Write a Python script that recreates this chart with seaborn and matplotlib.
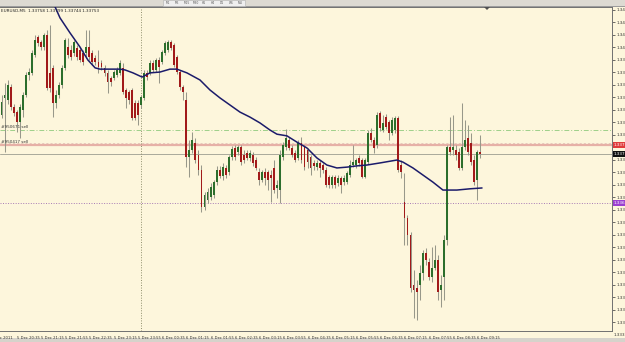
import numpy as np
import pandas as pd
import matplotlib
matplotlib.use("Agg")
import matplotlib.pyplot as plt
import matplotlib.transforms as mtransforms
from matplotlib.patches import Rectangle, Polygon
import seaborn as sns

# ---------------- data ----------------
symbol = "EURUSD,M5"
start_time = "2011-12-05 20:10"

opens = [1.33847, 1.33888, 1.33883, 1.33914, 1.33866, 1.33854, 1.33830, 1.33859, 1.33895, 1.33943,
         1.33948, 1.33991, 1.34034, 1.34022, 1.34010, 1.34039, 1.33948, 1.33960, 1.33876, 1.33895,
         1.33919, 1.33960, 1.34010, 1.34003, 1.33996, 1.34008, 1.34003, 1.33996, 1.33996, 1.34010,
         1.33996, 1.33984, 1.33974, 1.33972, 1.33960, 1.33948, 1.33936, 1.33936, 1.33943, 1.33948,
         1.33960, 1.33907, 1.33902, 1.33907, 1.33876, 1.33876, 1.33871, 1.33888, 1.33948, 1.33948,
         1.33972, 1.33955, 1.33979, 1.33974, 1.33996, 1.34003, 1.34022, 1.34015, 1.33986, 1.33950,
         1.33914, 1.33883, 1.33746, 1.33763, 1.33780, 1.33751, 1.33715, 1.33626, 1.33643, 1.33650,
         1.33655, 1.33686, 1.33715, 1.33701, 1.33720, 1.33710, 1.33746, 1.33768, 1.33758, 1.33770,
         1.33751, 1.33756, 1.33744, 1.33751, 1.33739, 1.33710, 1.33691, 1.33710, 1.33710, 1.33703,
         1.33720, 1.33672, 1.33667, 1.33746, 1.33770, 1.33787, 1.33768, 1.33756, 1.33744, 1.33780,
         1.33770, 1.33763, 1.33746, 1.33732, 1.33722, 1.33732, 1.33727, 1.33715, 1.33698, 1.33679,
         1.33698, 1.33684, 1.33696, 1.33686, 1.33686, 1.33703, 1.33727, 1.33727, 1.33744, 1.33739,
         1.33698, 1.33734, 1.33804, 1.33787, 1.33775, 1.33852, 1.33811, 1.33842, 1.33830, 1.33804,
         1.33811, 1.33840, 1.33727, 1.33638, 1.33600, 1.33559, 1.33439, 1.33432, 1.33439, 1.33468,
         1.33516, 1.33494, 1.33458, 1.33480, 1.33499, 1.33427, 1.33458, 1.33547, 1.33770, 1.33763,
         1.33763, 1.33758, 1.33720, 1.33770, 1.33792, 1.33780, 1.33739, 1.33691, 1.33758]

highs = [1.33895, 1.33924, 1.33931, 1.33921, 1.33873, 1.33859, 1.33873, 1.33902, 1.33950, 1.33960,
         1.34003, 1.34039, 1.34039, 1.34027, 1.34044, 1.34051, 1.34063, 1.33967, 1.33907, 1.33926,
         1.33967, 1.34032, 1.34032, 1.34015, 1.34027, 1.34015, 1.34010, 1.34003, 1.34051, 1.34051,
         1.34003, 1.33991, 1.34003, 1.33979, 1.33967, 1.33955, 1.33941, 1.33955, 1.33962, 1.33979,
         1.33972, 1.33912, 1.33907, 1.33912, 1.33883, 1.33883, 1.33895, 1.33955, 1.33955, 1.33979,
         1.33979, 1.33984, 1.33986, 1.34003, 1.34025, 1.34027, 1.34027, 1.34020, 1.33991, 1.33955,
         1.33919, 1.33902, 1.33787, 1.33806, 1.33792, 1.33763, 1.33727, 1.33662, 1.33672, 1.33684,
         1.33691, 1.33725, 1.33725, 1.33732, 1.33727, 1.33751, 1.33773, 1.33775, 1.33775, 1.33775,
         1.33763, 1.33763, 1.33763, 1.33758, 1.33746, 1.33720, 1.33715, 1.33720, 1.33715, 1.33715,
         1.33739, 1.33691, 1.33763, 1.33782, 1.33813, 1.33794, 1.33775, 1.33763, 1.33787, 1.33794,
         1.33775, 1.33768, 1.33751, 1.33739, 1.33739, 1.33739, 1.33732, 1.33722, 1.33703, 1.33703,
         1.33703, 1.33703, 1.33701, 1.33703, 1.33713, 1.33739, 1.33775, 1.33744, 1.33751, 1.33744,
         1.33744, 1.33811, 1.33816, 1.33794, 1.33854, 1.33857, 1.33847, 1.33849, 1.33835, 1.33842,
         1.33845, 1.33845, 1.33739, 1.33708, 1.33607, 1.33566, 1.33475, 1.33451, 1.33487, 1.33523,
         1.33528, 1.33504, 1.33530, 1.33535, 1.33511, 1.33463, 1.33559, 1.33775, 1.33842, 1.33847,
         1.33775, 1.33768, 1.33876, 1.33835, 1.33823, 1.33804, 1.33751, 1.33763, 1.33799]

lows = [1.33840, 1.33758, 1.33873, 1.33859, 1.33845, 1.33806, 1.33792, 1.33842, 1.33890, 1.33931,
        1.33943, 1.33986, 1.34013, 1.34003, 1.34003, 1.33907, 1.33902, 1.33842, 1.33864, 1.33888,
        1.33912, 1.33955, 1.33984, 1.33979, 1.33989, 1.33979, 1.33974, 1.33967, 1.33984, 1.33979,
        1.33967, 1.33967, 1.33948, 1.33955, 1.33941, 1.33900, 1.33917, 1.33931, 1.33938, 1.33943,
        1.33897, 1.33864, 1.33873, 1.33835, 1.33835, 1.33823, 1.33864, 1.33883, 1.33931, 1.33943,
        1.33950, 1.33950, 1.33924, 1.33969, 1.33991, 1.33998, 1.34003, 1.33962, 1.33945, 1.33907,
        1.33883, 1.33722, 1.33698, 1.33756, 1.33732, 1.33703, 1.33614, 1.33619, 1.33636, 1.33643,
        1.33648, 1.33679, 1.33696, 1.33691, 1.33696, 1.33703, 1.33739, 1.33739, 1.33751, 1.33727,
        1.33732, 1.33739, 1.33737, 1.33725, 1.33715, 1.33679, 1.33686, 1.33679, 1.33667, 1.33638,
        1.33660, 1.33648, 1.33636, 1.33739, 1.33763, 1.33763, 1.33746, 1.33734, 1.33739, 1.33732,
        1.33715, 1.33720, 1.33703, 1.33715, 1.33715, 1.33698, 1.33708, 1.33674, 1.33672, 1.33672,
        1.33672, 1.33677, 1.33660, 1.33679, 1.33681, 1.33698, 1.33722, 1.33720, 1.33725, 1.33696,
        1.33696, 1.33729, 1.33782, 1.33756, 1.33768, 1.33809, 1.33806, 1.33813, 1.33787, 1.33799,
        1.33804, 1.33710, 1.33696, 1.33535, 1.33535, 1.33422, 1.33360, 1.33355, 1.33403, 1.33451,
        1.33487, 1.33451, 1.33446, 1.33475, 1.33403, 1.33386, 1.33403, 1.33535, 1.33751, 1.33751,
        1.33739, 1.33715, 1.33715, 1.33763, 1.33751, 1.33727, 1.33679, 1.33643, 1.33744]

closes = [1.33878, 1.33895, 1.33919, 1.33866, 1.33852, 1.33830, 1.33866, 1.33895, 1.33943, 1.33950,
          1.33996, 1.34027, 1.34020, 1.34010, 1.34039, 1.33912, 1.33912, 1.33876, 1.33895, 1.33919,
          1.33960, 1.34027, 1.33991, 1.33986, 1.34022, 1.33986, 1.33979, 1.33974, 1.34010, 1.33986,
          1.33974, 1.33974, 1.33962, 1.33962, 1.33948, 1.33926, 1.33926, 1.33950, 1.33955, 1.33972,
          1.33902, 1.33888, 1.33883, 1.33840, 1.33840, 1.33847, 1.33890, 1.33948, 1.33938, 1.33972,
          1.33955, 1.33979, 1.33962, 1.33998, 1.34020, 1.34022, 1.34008, 1.33967, 1.33950, 1.33914,
          1.33902, 1.33746, 1.33763, 1.33787, 1.33739, 1.33715, 1.33626, 1.33655, 1.33662, 1.33674,
          1.33686, 1.33715, 1.33701, 1.33722, 1.33703, 1.33746, 1.33765, 1.33746, 1.33770, 1.33734,
          1.33739, 1.33744, 1.33756, 1.33732, 1.33720, 1.33691, 1.33710, 1.33696, 1.33691, 1.33696,
          1.33667, 1.33679, 1.33751, 1.33775, 1.33792, 1.33768, 1.33751, 1.33739, 1.33780, 1.33739,
          1.33722, 1.33734, 1.33720, 1.33725, 1.33732, 1.33720, 1.33715, 1.33679, 1.33679, 1.33698,
          1.33679, 1.33696, 1.33679, 1.33696, 1.33708, 1.33727, 1.33734, 1.33739, 1.33732, 1.33698,
          1.33739, 1.33804, 1.33787, 1.33768, 1.33847, 1.33816, 1.33828, 1.33818, 1.33804, 1.33835,
          1.33840, 1.33715, 1.33710, 1.33600, 1.33559, 1.33432, 1.33427, 1.33422, 1.33468, 1.33516,
          1.33499, 1.33458, 1.33480, 1.33499, 1.33422, 1.33439, 1.33547, 1.33770, 1.33758, 1.33770,
          1.33751, 1.33720, 1.33770, 1.33787, 1.33758, 1.33734, 1.33686, 1.33758, 1.33753]

# moving average read at sample bars
ma_bar = [16.0, 17.7, 19.3, 22.6, 25.9, 28.5, 30.9, 32.5, 39.1, 40.8, 43.4, 46.4, 49.0, 52.3,
          55.6, 57.9, 61.2, 65.5, 68.8, 72.1, 75.4, 78.7, 82.0, 85.3, 88.6, 90.9, 94.2, 97.5,
          100.8, 104.1, 107.4, 110.7, 114.0, 117.3, 120.6, 124.9, 130.5, 132.5, 135.8, 139.1,
          142.4, 145.7, 150.3, 154.6, 158.6]
ma_price = [1.34130, 1.34106, 1.34080, 1.34044, 1.34010, 1.33979, 1.33960, 1.33957, 1.33957,
            1.33955, 1.33948, 1.33938, 1.33948, 1.33950, 1.33957, 1.33957, 1.33948, 1.33931,
            1.33907, 1.33888, 1.33871, 1.33854, 1.33842, 1.33828, 1.33811, 1.33801, 1.33797,
            1.33782, 1.33768, 1.33744, 1.33727, 1.33720, 1.33722, 1.33725, 1.33727, 1.33732,
            1.33739, 1.33734, 1.33720, 1.33703, 1.33686, 1.33667, 1.33667, 1.33670, 1.33672]

price_ticks = [1.34100, 1.34070, 1.34040, 1.34010, 1.33980, 1.33950, 1.33920, 1.33890, 1.33860,
               1.33830, 1.33800, 1.33770, 1.33740, 1.33710, 1.33680, 1.33650, 1.33620, 1.33590,
               1.33560, 1.33530, 1.33500, 1.33470, 1.33440, 1.33410, 1.33380, 1.33350]
bottom_tick = 1.33320

time_labels = ["5 Dec 2011", "5 Dec 20:35", "5 Dec 21:15", "5 Dec 21:55", "5 Dec 22:35",
               "5 Dec 23:15", "5 Dec 23:55", "6 Dec 00:35", "6 Dec 01:15", "6 Dec 01:55",
               "6 Dec 02:35", "6 Dec 03:15", "6 Dec 03:55", "6 Dec 04:35", "6 Dec 05:15",
               "6 Dec 05:55", "6 Dec 06:35", "6 Dec 07:15", "6 Dec 07:55", "6 Dec 08:35",
               "6 Dec 09:15"]

entry_level, entry_label = 1.33811, "#950671 sell"
stop_level, stop_label = 1.33775, "#950417 sell"
bid_level = 1.33753
alert_level = 1.33636
separator_time = "2011-12-06 00:00"
timeframes = ["M1", "M5", "M15", "M30", "H1", "H4", "D1", "W1", "MN"]

# ---------------- drawing ----------------
BG = "#fdf6dc"
GREEN = "#2c6e2c"
RED = "#a11a1a"
WICK = "#98988a"
NAVY = "#1b1b6a"

sns.set_theme(style="white")
plt.rcParams["font.family"] = ["DejaVu Sans"]

W, H = 625, 342
fig = plt.figure(figsize=(W / 100, H / 100), dpi=100, facecolor=BG)


def fy(py):
    return 1 - py / H


ax = fig.add_axes([0, fy(331), 612 / W, (331 - 7) / H])
ax.set_facecolor(BG)

n = len(opens)
o = np.array(opens)
h = np.array(highs)
l = np.array(lows)
c = np.array(closes)
x = np.arange(n)
times = pd.date_range(start_time, periods=n, freq="5min")

bull = c >= o
lo_body = np.minimum(o, c)
body_h = np.maximum(np.abs(c - o), 0.000012)

ax.vlines(x, l, h, color=WICK, lw=0.75, zorder=2)
ax.bar(x[bull], body_h[bull], bottom=lo_body[bull], width=0.62, color=GREEN,
       linewidth=0, zorder=3)
ax.bar(x[~bull], body_h[~bull], bottom=lo_body[~bull], width=0.62, color=RED,
       linewidth=0, zorder=3)

sns.lineplot(x=ma_bar, y=ma_price, ax=ax, color=NAVY, lw=1.1, sort=False,
             estimator=None, zorder=5)

# horizontal / vertical objects
ax.axhline(entry_level, color="#9fd08a", lw=0.7, ls=(0, (5, 2, 1, 2)), zorder=1)
ax.axhline(stop_level, color="#e6b0a6", lw=1.6, zorder=1)
ax.axhline(stop_level + 0.00006, color="#e0b8b0", lw=0.5, ls=(0, (3, 3)), zorder=1)
ax.axhline(bid_level, color="#a9a99a", lw=0.7, zorder=1)
ax.axhline(alert_level, color="#a77ab5", lw=0.7, ls=(0, (1, 1.6)), zorder=1)
sep_idx = times.get_loc(pd.Timestamp(separator_time))
ax.axvline(sep_idx, color="#8e8e6c", lw=0.7, ls=(0, (1, 1.6)), zorder=1)

ax.set_xlim(-0.5, 201.5)
ax.set_ylim(1.33329, 1.34106)

# spines
ax.spines["left"].set_visible(False)
for side in ["right", "bottom", "top"]:
    ax.spines[side].set_color("#707070")
    ax.spines[side].set_linewidth(0.7)

# right price axis
ax.yaxis.tick_right()
special = [stop_level, bid_level, alert_level]
shown = [p for p in price_ticks if min(abs(p - s) for s in special) > 0.00012]
ax.set_yticks(shown)
ax.set_yticklabels([f"{p:.5f}" for p in shown])
ax.tick_params(axis="y", length=2, width=0.5, pad=1, labelsize=3, colors="#333333")
ax.yaxis.grid(False)
bt = mtransforms.blended_transform_factory(ax.transAxes, ax.transData)
ax.text(1 + 2 / 612, bottom_tick, f"{bottom_tick:.5f}", transform=bt, fontsize=3,
        color="#333333", va="center", ha="left", clip_on=False)

# coloured price boxes
for lvl, fc in [(stop_level, "#e03a3a"), (bid_level, "#111111"), (alert_level, "#9b3fd0")]:
    ax.text(1 + 2 / 612, lvl, f"{lvl:.5f}", transform=bt, fontsize=3, color="white",
            va="center", ha="left", clip_on=False,
            bbox=dict(fc=fc, ec="none", pad=0.6))

# time axis
tick_pos = []
for i, lab in enumerate(time_labels):
    if i == 0:
        tick_pos.append(0)
    else:
        ts = pd.to_datetime(lab + " 2011", format="%d %b %H:%M %Y")
        tick_pos.append(times.get_loc(ts))
ax.set_xticks(tick_pos)
ax.set_xticklabels(time_labels)
ax.tick_params(axis="x", length=2, width=0.5, pad=1.5, labelsize=2.7, colors="#333333")
xlabels = ax.get_xticklabels()
for t in xlabels:
    t.set_ha("left")
# the first (date) label is partly pushed past the left edge, as in the terminal
xlabels[0].set_ha("right")
xlabels[0].set_transform(xlabels[0].get_transform() +
                         mtransforms.ScaledTranslation(11 / 100, 0, fig.dpi_scale_trans))

# order labels on the left
ax.text(0.002, entry_level + 0.00002, entry_label, transform=bt, fontsize=3,
        color="#333333", va="bottom", ha="left")
ax.text(0.002, stop_level + 0.00003, stop_label, transform=bt, fontsize=3,
        color="#333333", va="bottom", ha="left")

# header
header = f"{symbol}  {opens[-1]:.5f} {highs[-1]:.5f} {lows[-1]:.5f} {closes[-1]:.5f}"
fig.text(1 / W, fy(10.5), header, fontsize=3, color="#222222", va="center", ha="left")

# toolbar strip and bottom strip
fig.add_artist(Rectangle((0, fy(6)), 1, 6 / H, transform=fig.transFigure,
                         fc="#dddad2", ec="none", zorder=0))
fig.add_artist(Rectangle((0, fy(6.6)), 1, 0.8 / H, transform=fig.transFigure,
                         fc="#9c9c9c", ec="none", zorder=0))
fig.add_artist(Rectangle((163 / W, fy(6)), 82 / W, 6 / H, transform=fig.transFigure,
                         fc="#efefef", ec="#b0b0b0", lw=0.4, zorder=0))
for k, tf in enumerate(timeframes):
    fig.text((166 + k * 9) / W, fy(3), tf, fontsize=2.2, color="#555555",
             va="center", ha="left")
fig.add_artist(Rectangle((0, 0), 1, 4 / H, transform=fig.transFigure,
                         fc="#d6d3cb", ec="none", zorder=0))
# chart shift marker
fig.add_artist(Polygon([(484 / W, fy(7)), (490 / W, fy(7)), (487 / W, fy(10))],
                       closed=True, transform=fig.transFigure, fc="#505050", ec="none"))

fig.savefig("out.png", dpi=100, facecolor=BG)
